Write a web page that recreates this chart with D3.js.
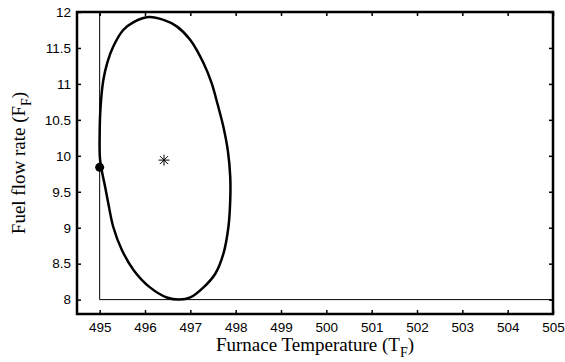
<!DOCTYPE html>
<html>
<head>
<meta charset="utf-8">
<script src="https://cdn.jsdelivr.net/npm/d3@7"></script>
<style>
  body { margin: 0; background: #fff; }
  .tick text { font-family: "Liberation Sans", Arial, sans-serif; font-size: 13.5px; }
  .lbl { font-family: "Liberation Serif", "Times New Roman", serif; font-size: 19px; }
</style>
</head>
<body>
<div id="chart"></div>
<script>
// confidence region outline (furnace temp, fuel flow), clockwise from the top
var region_T = [496.08, 496.41, 496.70, 497.00, 497.29, 497.47, 497.60, 497.73, 497.83, 497.88, 497.88,
                497.84, 497.73, 497.55, 497.29, 497.00, 496.76, 496.48, 496.11, 495.75, 495.49, 495.30,
                495.19, 495.12, 495.01, 495.00, 495.02, 495.08, 495.17, 495.30, 495.52, 495.75];
var region_F = [11.93, 11.89, 11.80, 11.61, 11.29, 11.01, 10.72, 10.40, 10.06, 9.71, 9.38,
                9.01, 8.64, 8.36, 8.17, 8.03, 8.00, 8.03, 8.17, 8.41, 8.69, 9.01,
                9.34, 9.57, 9.94, 10.31, 10.68, 11.05, 11.30, 11.52, 11.75, 11.86];

// constraint box
var box_T = [495, 495, 505];
var box_F = [12, 8, 8];

// estimate (star) and operating point (dot)
var estimate = [496.42, 9.94];
var operating = [495.0, 9.84];

var xTicks = [495, 496, 497, 498, 499, 500, 501, 502, 503, 504, 505];
var yTicks = [8, 8.5, 9, 9.5, 10, 10.5, 11, 11.5, 12];

var W = 565, H = 362;
var margin = {top: 12, right: 12, bottom: 48, left: 77},
    width = W - margin.left - margin.right,
    height = H - margin.top - margin.bottom;

var svg = d3.select("#chart").append("svg")
    .attr("width", W)
    .attr("height", H)
    .append("g")
    .attr("transform", `translate(${margin.left},${margin.top})`);

var x = d3.scaleLinear().domain([494.5, 505]).range([0, width]);
var y = d3.scaleLinear().domain([7.8, 12]).range([height, 0]);

// axes, ticks pointing inward on all four sides
function styleAxis(g) {
    g.select(".domain").remove();
    g.selectAll(".tick line").attr("stroke", "#000").attr("stroke-width", 1.5);
}

svg.append("g")
    .attr("transform", `translate(0,${height})`)
    .call(d3.axisBottom(x).tickValues(xTicks).tickSize(-4).tickPadding(8).tickFormat(d3.format("d")))
    .call(styleAxis);
svg.append("g")
    .call(d3.axisTop(x).tickValues(xTicks).tickSize(-4).tickFormat(""))
    .call(styleAxis);
svg.append("g")
    .call(d3.axisLeft(y).tickValues(yTicks).tickSize(-4).tickPadding(6).tickFormat(d3.format("")))
    .call(styleAxis);
svg.append("g")
    .attr("transform", `translate(${width},0)`)
    .call(d3.axisRight(y).tickValues(yTicks).tickSize(-4).tickFormat(""))
    .call(styleAxis);

svg.selectAll(".tick text").attr("fill", "#000");

// constraint lines
svg.append("path")
    .datum(box_T.map((t, i) => [t, box_F[i]]))
    .attr("fill", "none")
    .attr("stroke", "#000")
    .attr("stroke-width", 1)
    .attr("d", d3.line().x(d => x(d[0])).y(d => y(d[1])));

// region outline
svg.append("path")
    .datum(region_T.map((t, i) => [t, region_F[i]]))
    .attr("fill", "none")
    .attr("stroke", "#000")
    .attr("stroke-width", 2.5)
    .attr("d", d3.line().x(d => x(d[0])).y(d => y(d[1])).curve(d3.curveCatmullRomClosed.alpha(0.5)));

// operating point
svg.append("circle")
    .attr("cx", x(operating[0]))
    .attr("cy", y(operating[1]))
    .attr("r", 4.5)
    .attr("fill", "#000");

// estimate as an asterisk
var sx = x(estimate[0]), sy = y(estimate[1]), r = 5.5, rd = 4;
var star = svg.append("g").attr("stroke", "#000").attr("stroke-width", 1);
star.append("line").attr("x1", sx - r).attr("x2", sx + r).attr("y1", sy).attr("y2", sy);
star.append("line").attr("x1", sx).attr("x2", sx).attr("y1", sy - r).attr("y2", sy + r);
star.append("line").attr("x1", sx - rd).attr("x2", sx + rd).attr("y1", sy - rd).attr("y2", sy + rd);
star.append("line").attr("x1", sx - rd).attr("x2", sx + rd).attr("y1", sy + rd).attr("y2", sy - rd);

// axes box
svg.append("rect")
    .attr("width", width)
    .attr("height", height)
    .attr("fill", "none")
    .attr("stroke", "#000")
    .attr("stroke-width", 2.5);

// labels
var xl = svg.append("text")
    .attr("class", "lbl")
    .attr("x", width / 2)
    .attr("y", height + 37)
    .attr("text-anchor", "middle");
xl.append("tspan").text("Furnace Temperature (T");
xl.append("tspan").attr("font-size", "14px").attr("dy", 6).text("F");
xl.append("tspan").attr("dy", -6).text(")");

var yl = svg.append("text")
    .attr("class", "lbl")
    .attr("transform", `translate(${-52},${height / 2}) rotate(-90)`)
    .attr("text-anchor", "middle");
yl.append("tspan").text("Fuel flow rate (F");
yl.append("tspan").attr("font-size", "14px").attr("dy", 6).text("F");
yl.append("tspan").attr("dy", -6).text(")");
</script>
</body>
</html>
